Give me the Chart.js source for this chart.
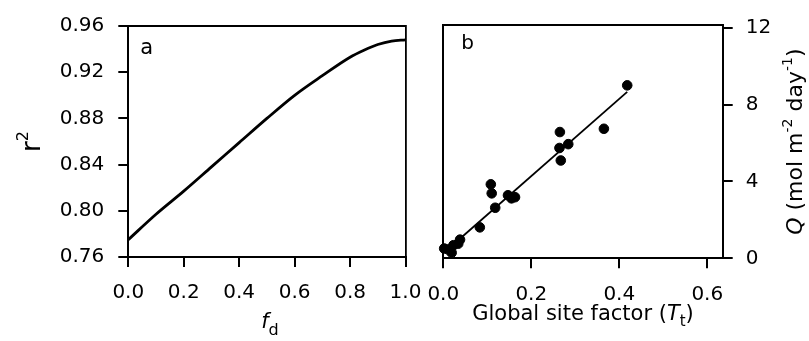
<!DOCTYPE html>
<html>
<head>
<meta charset="utf-8">
<script src="https://cdn.jsdelivr.net/npm/chart.js@4/dist/chart.umd.min.js"></script>
<style>
  html, body { margin: 0; padding: 0; background: #fff; }
  #wrap { position: relative; width: 809px; height: 341px; }
  canvas { position: absolute; left: 0; top: 0; }
</style>
</head>
<body>
<div id="wrap">
  <canvas id="cA" width="809" height="341"></canvas>
  <canvas id="cB" width="809" height="341"></canvas>
</div>
<script>
// ---- Panel a data ----
const fdValues = [0, 0.1, 0.2, 0.3, 0.4, 0.5, 0.6, 0.7, 0.8, 0.85, 0.9, 0.95, 1.0];
const r2Values = [0.775, 0.797, 0.817, 0.838, 0.859, 0.880, 0.900, 0.917, 0.933, 0.939, 0.944, 0.947, 0.948];
const fdTicks = [0, 0.2, 0.4, 0.6, 0.8, 1.0];
const r2Ticks = [0.76, 0.80, 0.84, 0.88, 0.92, 0.96];

// ---- Panel b data ----
const siteFactor = [0.418, 0.365, 0.265, 0.284, 0.264, 0.267, 0.108, 0.110, 0.147, 0.155, 0.163, 0.118, 0.083, 0.038, 0.034, 0.023, 0.011, 0.019, 0.002];
const qValues    = [9.00, 6.74, 6.57, 5.94, 5.74, 5.09, 3.85, 3.38, 3.28, 3.12, 3.18, 2.63, 1.61, 0.97, 0.76, 0.68, 0.46, 0.29, 0.51];
const fitX = [0.008, 0.418];
const fitY = [0.42, 8.66];
const tTicks = [0, 0.2, 0.4, 0.6];
const qTicks = [0, 4, 8, 12];

const FONT = 'DejaVu Sans';
const tickFont = { family: FONT, size: 20 };
const INK = '#000';

function setTicks(arr) {
  return (scale) => { scale.ticks = arr.map(v => ({ value: v })); };
}
function fixW(w) { return (s) => { s.width = w; }; }
function fixH(h) { return (s) => { s.height = h; }; }

const richText = {
  id: 'richText',
  afterDraw(chart, args, opts) {
    const ctx = chart.ctx;
    const ca = chart.chartArea;
    (opts.items || []).forEach(item => {
      ctx.save();
      const p = item.pos(ca);
      ctx.translate(p.x, p.y);
      ctx.rotate(item.rotation || 0);
      ctx.fillStyle = INK;
      ctx.textBaseline = 'alphabetic';
      let total = 0;
      item.parts.forEach(pt => { ctx.font = pt.font; total += ctx.measureText(pt.text).width; });
      let cx = item.align === 'left' ? 0 : -total / 2;
      item.parts.forEach(pt => {
        ctx.font = pt.font;
        ctx.fillText(pt.text, cx, pt.dy || 0);
        cx += ctx.measureText(pt.text).width;
      });
      ctx.restore();
    });
  }
};

const axisGrid = { drawOnChartArea: false, drawTicks: true, tickLength: 10, color: INK, lineWidth: 2 };
const solidBorder = { color: INK, width: 2 };

// ---- Panel a ----
new Chart(document.getElementById('cA'), {
  type: 'line',
  data: {
    datasets: [{
      data: fdValues.map((f, i) => ({ x: f, y: r2Values[i] })),
      borderColor: INK,
      borderWidth: 2.8,
      pointRadius: 0,
      cubicInterpolationMode: 'monotone',
      fill: false
    }]
  },
  options: {
    responsive: false,
    animation: false,
    layout: { padding: 0 },
    plugins: {
      legend: { display: false },
      tooltip: { enabled: false },
      richText: {
        items: [
          { pos: ca => ({ x: ca.left + 12, y: ca.top + 28 }), align: 'left',
            parts: [{ text: 'a', font: `21px "${FONT}"` }] },
          { pos: ca => ({ x: (ca.left + ca.right) / 2 + 3, y: 328 }),
            parts: [{ text: 'f', font: `italic 21px "${FONT}"` },
                    { text: 'd', font: `16px "${FONT}"`, dy: 7 }] },
          { pos: ca => ({ x: 40, y: (ca.top + ca.bottom) / 2 }), rotation: -Math.PI / 2,
            parts: [{ text: 'r', font: `26px "${FONT}"` },
                    { text: '2', font: `16px "${FONT}"`, dy: -12 }] }
        ]
      }
    },
    scales: {
      x: {
        type: 'linear', position: 'bottom', min: 0, max: 1,
        grid: axisGrid, border: solidBorder,
        ticks: { font: tickFont, color: INK, padding: 14, maxRotation: 0, autoSkip: false,
                 callback: v => v.toFixed(1) },
        afterBuildTicks: setTicks(fdTicks),
        afterFit: fixH(84)
      },
      x2: {
        type: 'linear', position: 'top', min: 0, max: 1,
        grid: { display: false }, border: solidBorder,
        ticks: { display: false },
        afterFit: fixH(20)
      },
      y: {
        type: 'linear', position: 'left', min: 0.76, max: 0.96,
        grid: axisGrid, border: solidBorder,
        ticks: { font: tickFont, color: INK, padding: 14, autoSkip: false,
                 callback: v => v.toFixed(2) },
        afterBuildTicks: setTicks(r2Ticks),
        afterFit: fixW(128.3)
      },
      y2: {
        type: 'linear', position: 'right', min: 0.76, max: 0.96,
        grid: { display: false }, border: { color: INK, width: 1.8, dash: [10, 4] },
        ticks: { display: false },
        afterFit: fixW(809 - 405.5)
      }
    }
  },
  plugins: [richText]
});

// ---- Panel b ----
new Chart(document.getElementById('cB'), {
  type: 'scatter',
  data: {
    datasets: [
      {
        type: 'scatter',
        data: siteFactor.map((t, i) => ({ x: t, y: qValues[i] })),
        backgroundColor: INK, borderColor: INK,
        pointRadius: 4.8, pointHoverRadius: 4.8,
        clip: 8
      },
      {
        type: 'line',
        data: fitX.map((t, i) => ({ x: t, y: fitY[i] })),
        borderColor: INK, borderWidth: 1.8,
        pointRadius: 0, fill: false
      }
    ]
  },
  options: {
    responsive: false,
    animation: false,
    layout: { padding: 0 },
    plugins: {
      legend: { display: false },
      tooltip: { enabled: false },
      richText: {
        items: [
          { pos: ca => ({ x: ca.left + 18, y: ca.top + 24 }), align: 'left',
            parts: [{ text: 'b', font: `20px "${FONT}"` }] },
          { pos: ca => ({ x: (ca.left + ca.right) / 2, y: 320 }),
            parts: [{ text: 'Global site factor (', font: `21px "${FONT}"` },
                    { text: 'T', font: `italic 21px "${FONT}"` },
                    { text: 't', font: `15px "${FONT}"`, dy: 6 },
                    { text: ')', font: `21px "${FONT}"` }] },
          { pos: ca => ({ x: 802, y: (ca.top + ca.bottom) / 2 }), rotation: -Math.PI / 2,
            parts: [{ text: 'Q', font: `italic 22px "${FONT}"` },
                    { text: ' (mol m', font: `22px "${FONT}"` },
                    { text: '-2', font: `14px "${FONT}"`, dy: -10 },
                    { text: ' day', font: `22px "${FONT}"` },
                    { text: '-1', font: `14px "${FONT}"`, dy: -10 },
                    { text: ')', font: `22px "${FONT}"` }] }
        ]
      }
    },
    scales: {
      x: {
        type: 'linear', position: 'bottom', min: 0, max: 0.635,
        grid: axisGrid, border: solidBorder,
        ticks: { font: tickFont, color: INK, padding: 14, maxRotation: 0, autoSkip: false,
                 callback: v => v.toFixed(1) },
        afterBuildTicks: setTicks(tTicks),
        afterFit: fixH(341 - 258.3)
      },
      x2: {
        type: 'linear', position: 'top', min: 0, max: 0.635,
        grid: { display: false }, border: solidBorder,
        ticks: { display: false },
        afterFit: fixH(20)
      },
      y2: {
        type: 'linear', position: 'left', min: 0, max: 12.14,
        grid: { display: false }, border: solidBorder,
        ticks: { display: false },
        afterFit: fixW(443.3)
      },
      y: {
        type: 'linear', position: 'right', min: 0, max: 12.14,
        grid: axisGrid, border: solidBorder,
        ticks: { font: tickFont, color: INK, padding: 13, autoSkip: false,
                 callback: v => String(v) },
        afterBuildTicks: setTicks(qTicks),
        afterFit: fixW(809 - 722.7)
      }
    }
  },
  plugins: [richText]
});
</script>
</body>
</html>
